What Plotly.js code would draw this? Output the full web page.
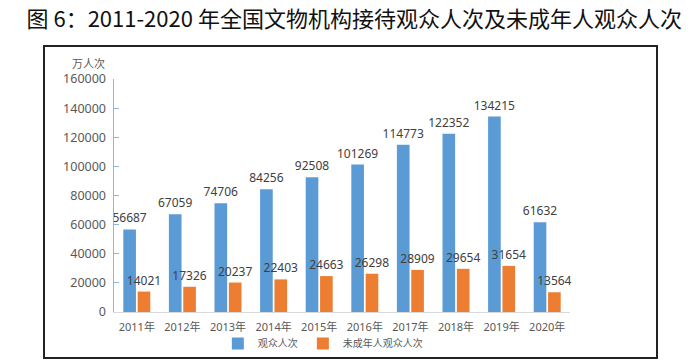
<!DOCTYPE html>
<html>
<head>
<meta charset="utf-8">
<script src="https://cdn.plot.ly/plotly-3.0.1.min.js"></script>
<style>
html,body{margin:0;padding:0;background:#fff;}
#wrap{position:relative;width:700px;height:364px;}
#chart{width:700px;height:364px;}
#frame{position:absolute;left:43px;top:45px;width:611px;height:310px;border:2px solid #222;pointer-events:none;}
</style>
</head>
<body>
<div id="wrap"><div id="chart"></div><div id="frame"></div></div>
<script>
const years = ['2011年','2012年','2013年','2014年','2015年','2016年','2017年','2018年','2019年','2020年'];
const visitors = [56687, 67059, 74706, 84256, 92508, 101269, 114773, 122352, 134215, 61632];
const minors = [14021, 17326, 20237, 22403, 24663, 26298, 28909, 29654, 31654, 13564];
const seriesNames = ['观众人次', '未成年人观众人次'];
const yTicks = [0, 20000, 40000, 60000, 80000, 100000, 120000, 140000, 160000];

const font = '"Noto Sans", "Noto Sans CJK SC", sans-serif';
const cjk = '"Noto Sans CJK SC", "Noto Sans", sans-serif';

const traces = [
  {type:'bar', name:seriesNames[0], x:years, y:visitors, marker:{color:'#5B9BD5'},
   text:visitors.map(String), textposition:'outside', cliponaxis:false, constraintext:'none',
   textfont:{family:font, size:12, color:'#404040'}},
  {type:'bar', name:seriesNames[1], x:years, y:minors, marker:{color:'#ED7D31'},
   text:minors.map(String), textposition:'outside', cliponaxis:false, constraintext:'none',
   textfont:{family:font, size:12, color:'#404040'}}
];

const layout = {
  width:700, height:364,
  margin:{l:114, r:130, t:79, b:52, autoexpand:false},
  paper_bgcolor:'#fff', plot_bgcolor:'#fff',
  font:{family:cjk, color:'#595959'},
  title:{text:'图 6：2011-2020 年全国文物机构接待观众人次及未成年人观众人次',
         x:0.506, xref:'container', xanchor:'center', y:0.948, yref:'container', yanchor:'middle',
         font:{family:cjk, size:22, color:'#111'}},
  barmode:'group', bargap:0.37, bargroupgap:0.12,
  showlegend:true,
  legend:{orientation:'h', x:0.458, xanchor:'center', y:-0.135, yanchor:'middle',
          bgcolor:'rgba(0,0,0,0)',
          font:{family:cjk, size:10, color:'#595959'}, itemwidth:30, tracegroupgap:0},
  xaxis:{showline:true, linecolor:'#D9D9D9', linewidth:1, ticks:'', showgrid:false, automargin:false,
         ticklabelstandoff:5, tickfont:{family:font, size:11, color:'#595959'}},
  yaxis:{range:[0,160000], tickvals:yTicks, ticktext:yTicks.map(String), showgrid:false, zeroline:false, automargin:false,
         showline:true, linecolor:'#8DB4E2', linewidth:1.5, ticks:'inside', ticklen:5, tickcolor:'#8DB4E2',
         ticklabelstandoff:4, tickfont:{family:font, size:12.5, color:'#595959'}},
  annotations:[{text:'万人次', xref:'paper', yref:'paper', x:-0.057, y:1.069, xanchor:'center', yanchor:'middle',
                showarrow:false, font:{family:cjk, size:11, color:'#595959'}}]
};

Plotly.newPlot('chart', traces, layout, {displayModeBar:false, staticPlot:true});
</script>
</body>
</html>
